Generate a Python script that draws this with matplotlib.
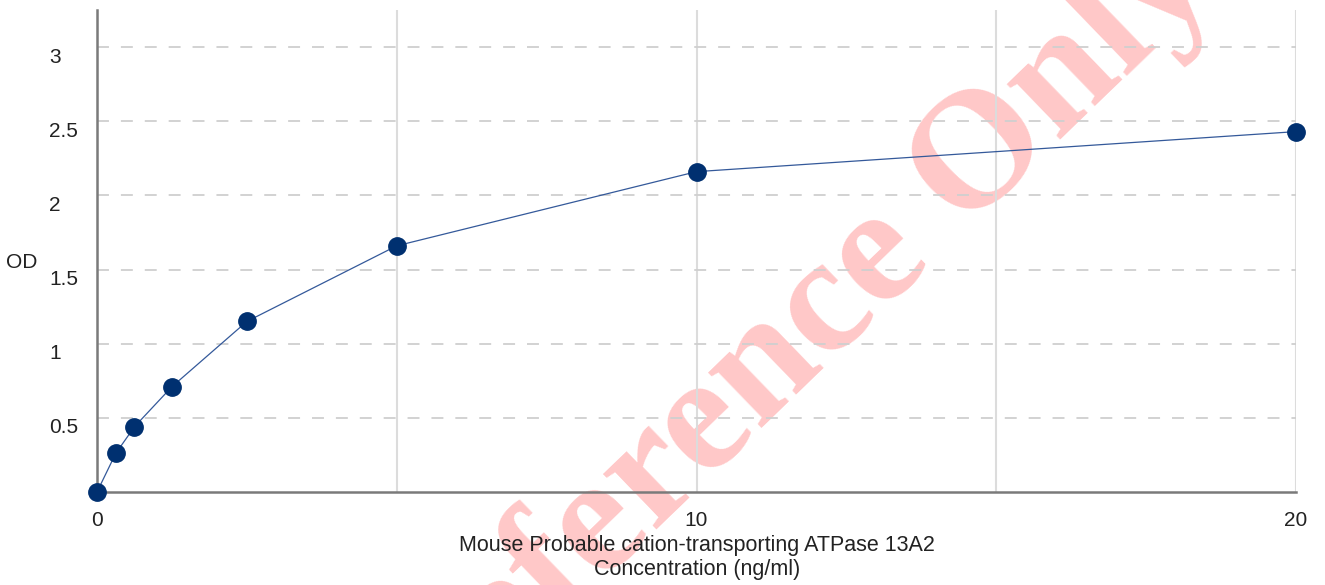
import matplotlib
matplotlib.use("Agg")
import matplotlib.pyplot as plt
import matplotlib.transforms as mtransforms

# standard curve values
conc = [0, 0.3125, 0.625, 1.25, 2.5, 5, 10, 20]
od = [0.0, 0.26, 0.44, 0.71, 1.15, 1.66, 2.16, 2.43]

x_ticks = [0, 5, 10, 15, 20]
x_tick_labels = ["0", "", "10", "", "20"]
y_ticks = [0.5, 1, 1.5, 2, 2.5, 3]
y_tick_labels = ["0.5", "1", "1.5", "2", "2.5", "3"]

plt.rcParams['font.family'] = ['Liberation Sans', 'DejaVu Sans']
plt.rcParams['lines.scale_dashes'] = False

W, H = 1325, 585
fig = plt.figure(figsize=(W / 100, H / 100), dpi=100)
ax = fig.add_axes([97 / W, 93 / H, (1296 - 97) / W, (492 - 10) / H])

# watermark behind the grid and the curve
fig.text(790 / W, 1 - 343 / H, "Reference Only", fontsize=121, fontweight='bold',
         family='Liberation Serif', color='red', alpha=0.22, rotation=44,
         ha='center', va='center', rotation_mode='anchor', zorder=-1)
ax.set_facecolor('none')

ax.plot(conc, od, color='#34599a', lw=0.9, marker='o', markersize=12.5,
        markerfacecolor='#003070', markeredgecolor='#003070', clip_on=False, zorder=5)

ax.set_xlim(0, 20)
ax.set_ylim(0, 3.25)
ax.set_xticks(x_ticks)
ax.set_xticklabels(x_tick_labels)
ax.set_yticks(y_ticks)
ax.set_yticklabels(y_tick_labels)

ax.tick_params(axis='both', length=0, labelsize=15, colors='#222222')
ax.tick_params(axis='x', pad=14)
ax.tick_params(axis='y', pad=34.5)
offset = mtransforms.ScaledTranslation(0, -8 / 100, fig.dpi_scale_trans)
for lbl in ax.get_yticklabels():
    lbl.set_horizontalalignment('left')
    lbl.set_transform(lbl.get_transform() + offset)

ax.xaxis.grid(True, color='#dcdcdc', lw=1.5, ls='-')
ax.yaxis.grid(True, color='#cfcfcf', lw=1.3, ls=(0, (8.6, 8.6)))
ax.set_axisbelow(True)

for side in ['top', 'right']:
    ax.spines[side].set_visible(False)
for side in ['left', 'bottom']:
    ax.spines[side].set_color('#7a7a7a')
    ax.spines[side].set_linewidth(1.8)

fig.text(22 / W, 1 - 262 / H, "OD", fontsize=15, ha='center', va='center', color='#222222')
fig.text(697 / W, 1 - 557.5 / H, "Mouse Probable cation-transporting ATPase 13A2\nConcentration (ng/ml)",
         fontsize=15.5, ha='center', va='center', linespacing=1.2, color='#222222')

fig.savefig("out.png", dpi=100)
